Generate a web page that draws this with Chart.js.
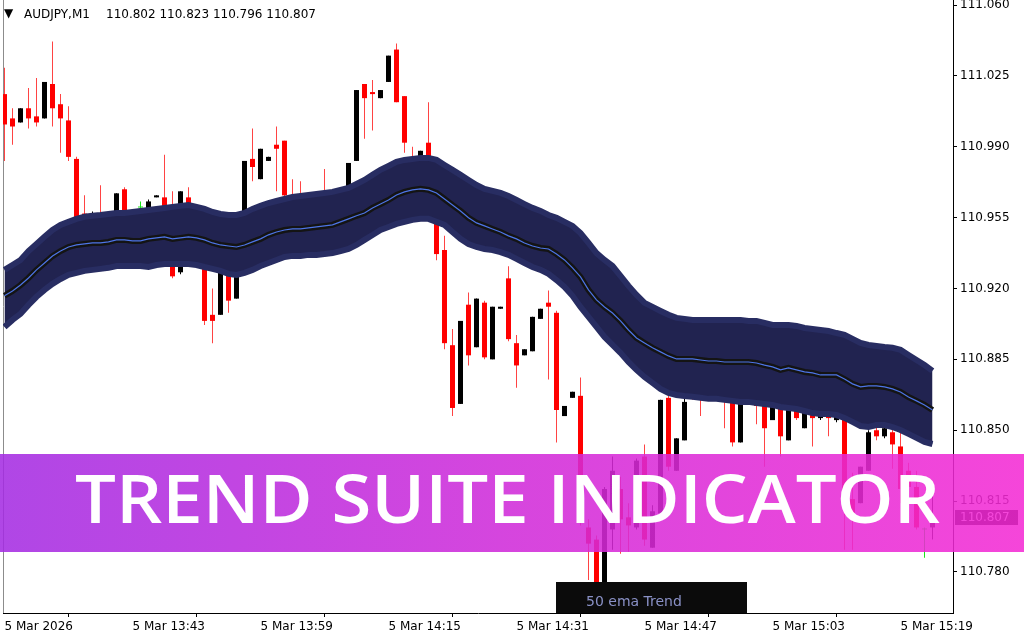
<!DOCTYPE html>
<html>
<head>
<meta charset="utf-8">
<script src="https://cdn.jsdelivr.net/npm/chart.js@4.4.1/dist/chart.umd.min.js"></script>
<style>
  html, body { margin: 0; padding: 0; background: #ffffff; }
  #wrap { width: 1024px; height: 640px; position: relative; }
  canvas { display: block; }
</style>
</head>
<body>
<div id="wrap"><canvas id="chart" width="1024" height="640"></canvas></div>
<script>
// AUDJPY M1 candles, one per minute starting 13:27
const symbolName = 'AUDJPY,M1';
const timeLabels = ['5 Mar 2026', '5 Mar 13:43', '5 Mar 13:59', '5 Mar 14:15', '5 Mar 14:31', '5 Mar 14:47', '5 Mar 15:03', '5 Mar 15:19'];
const timeLabelBars = [0, 16, 32, 48, 64, 80, 96, 112];
const priceTicks = [111.060, 111.025, 110.990, 110.955, 110.920, 110.885, 110.850, 110.815, 110.780];

const opens = [
  111.016, 111.004, 111.002, 111.009, 111.005, 111.004, 111.021, 111.011, 111.003, 110.984,
  110.957, 110.951, 110.956, 110.949, 110.955, 110.969, 110.956, 110.960, 110.956, 110.965,
  110.965, 110.954, 110.928, 110.965, 110.946, 110.937, 110.907, 110.907, 110.930, 110.915,
  110.950, 110.984, 110.974, 110.983, 110.991, 110.993, 110.965, 110.961, 110.951, 110.956,
  110.964, 110.951, 110.958, 110.961, 110.983, 111.021, 111.017, 111.014, 111.022, 111.038,
  111.015, 110.983, 110.981, 110.992, 110.961, 110.939, 110.892, 110.863, 110.912, 110.891,
  110.913, 110.885, 110.910, 110.925, 110.893, 110.887, 110.889, 110.905, 110.913, 110.908,
  110.857, 110.866, 110.867, 110.802, 110.796, 110.771, 110.801, 110.821, 110.807, 110.802,
  110.837, 110.792, 110.809, 110.866, 110.830, 110.845, 110.872, 110.870, 110.867, 110.872,
  110.869, 110.867, 110.844, 110.867, 110.867, 110.865, 110.855, 110.862, 110.845, 110.860,
  110.851, 110.859, 110.856, 110.860, 110.855, 110.858, 110.816, 110.814, 110.830, 110.850,
  110.847, 110.849, 110.842, 110.830, 110.822, 110.801, 110.802
];
const highs = [
  111.029, 111.009, 111.009, 111.019, 111.024, 111.022, 111.042, 111.016, 111.010, 110.985,
  110.966, 110.958, 110.971, 110.954, 110.967, 110.970, 110.959, 110.963, 110.964, 110.966,
  110.986, 110.968, 110.968, 110.970, 110.951, 110.942, 110.920, 110.935, 110.934, 110.933,
  110.983, 110.999, 110.989, 110.985, 111.000, 110.993, 110.974, 110.973, 110.959, 110.961,
  110.979, 110.959, 110.964, 110.982, 111.018, 111.021, 111.023, 111.018, 111.035, 111.041,
  111.015, 110.990, 110.988, 111.012, 110.964, 110.946, 110.900, 110.904, 110.918, 110.915,
  110.914, 110.911, 110.911, 110.931, 110.897, 110.890, 110.906, 110.910, 110.919, 110.909,
  110.862, 110.869, 110.876, 110.806, 110.798, 110.822, 110.837, 110.827, 110.814, 110.836,
  110.843, 110.813, 110.865, 110.870, 110.846, 110.867, 110.877, 110.875, 110.875, 110.877,
  110.875, 110.872, 110.870, 110.872, 110.872, 110.870, 110.866, 110.867, 110.865, 110.865,
  110.862, 110.862, 110.862, 110.865, 110.860, 110.860, 110.829, 110.832, 110.850, 110.855,
  110.855, 110.853, 110.849, 110.834, 110.830, 110.802, 110.823
];
const lows = [
  110.983, 110.991, 111.002, 110.999, 111.000, 111.004, 111.000, 110.987, 110.983, 110.948,
  110.944, 110.949, 110.946, 110.945, 110.953, 110.953, 110.946, 110.954, 110.955, 110.965,
  110.955, 110.925, 110.927, 110.951, 110.942, 110.902, 110.893, 110.907, 110.908, 110.915,
  110.949, 110.973, 110.974, 110.983, 110.968, 110.964, 110.956, 110.953, 110.946, 110.946,
  110.949, 110.946, 110.946, 110.959, 110.983, 110.994, 110.998, 111.014, 111.022, 111.012,
  110.987, 110.976, 110.980, 110.979, 110.934, 110.890, 110.857, 110.863, 110.882, 110.891,
  110.885, 110.885, 110.910, 110.894, 110.871, 110.887, 110.889, 110.905, 110.875, 110.844,
  110.857, 110.866, 110.803, 110.776, 110.769, 110.769, 110.791, 110.789, 110.790, 110.801,
  110.793, 110.792, 110.808, 110.830, 110.830, 110.845, 110.865, 110.857, 110.865, 110.865,
  110.851, 110.842, 110.844, 110.864, 110.853, 110.832, 110.855, 110.837, 110.845, 110.855,
  110.851, 110.842, 110.855, 110.847, 110.854, 110.791, 110.791, 110.814, 110.830, 110.845,
  110.846, 110.831, 110.814, 110.821, 110.801, 110.787, 110.796
];
const closes = [
  111.001, 111.000, 111.009, 111.004, 111.002, 111.022, 111.009, 111.004, 110.985, 110.951,
  110.949, 110.957, 110.950, 110.952, 110.967, 110.956, 110.951, 110.960, 110.963, 110.966,
  110.958, 110.926, 110.968, 110.954, 110.950, 110.904, 110.904, 110.933, 110.914, 110.932,
  110.983, 110.980, 110.989, 110.985, 110.989, 110.966, 110.959, 110.956, 110.956, 110.950,
  110.954, 110.958, 110.953, 110.982, 111.018, 111.014, 111.016, 111.018, 111.035, 111.012,
  110.992, 110.980, 110.988, 110.983, 110.937, 110.893, 110.861, 110.904, 110.887, 110.915,
  110.886, 110.911, 110.911, 110.895, 110.882, 110.890, 110.906, 110.910, 110.911, 110.860,
  110.862, 110.869, 110.806, 110.794, 110.771, 110.821, 110.830, 110.806, 110.803, 110.835,
  110.796, 110.810, 110.865, 110.832, 110.846, 110.864, 110.869, 110.866, 110.872, 110.867,
  110.865, 110.844, 110.867, 110.865, 110.862, 110.851, 110.864, 110.847, 110.862, 110.856,
  110.859, 110.856, 110.860, 110.856, 110.859, 110.816, 110.806, 110.832, 110.849, 110.847,
  110.851, 110.843, 110.821, 110.822, 110.802, 110.801, 110.807
];

// 50 EMA trend line and its channel edges
const emaMid = [
  110.9164, 110.9188, 110.9217, 110.9252, 110.9292, 110.9326, 110.9360, 110.9385, 110.9405, 110.9415,
  110.9420, 110.9425, 110.9425, 110.9430, 110.9440, 110.9440, 110.9435, 110.9435, 110.9445, 110.9450,
  110.9455, 110.9445, 110.9450, 110.9455, 110.9450, 110.9440, 110.9425, 110.9415, 110.9410, 110.9405,
  110.9415, 110.9430, 110.9445, 110.9465, 110.9479, 110.9489, 110.9494, 110.9494, 110.9499, 110.9504,
  110.9509, 110.9514, 110.9529, 110.9544, 110.9559, 110.9573, 110.9598, 110.9617, 110.9637, 110.9662,
  110.9677, 110.9687, 110.9692, 110.9687, 110.9672, 110.9642, 110.9612, 110.9583, 110.9549, 110.9524,
  110.9509, 110.9494, 110.9479, 110.9460, 110.9445, 110.9425, 110.9410, 110.9400, 110.9395, 110.9370,
  110.9341, 110.9302, 110.9257, 110.9193, 110.9144, 110.9109, 110.9079, 110.9040, 110.8995, 110.8956,
  110.8931, 110.8907, 110.8887, 110.8867, 110.8852, 110.8852, 110.8852, 110.8847, 110.8842, 110.8842,
  110.8837, 110.8837, 110.8837, 110.8837, 110.8832, 110.8822, 110.8813, 110.8798, 110.8808, 110.8798,
  110.8788, 110.8783, 110.8773, 110.8773, 110.8773, 110.8753, 110.8729, 110.8714, 110.8719, 110.8719,
  110.8714, 110.8704, 110.8689, 110.8664, 110.8645, 110.8625, 110.8600
];
const bandUpper = [
  110.9292, 110.9316, 110.9341, 110.9385, 110.9420, 110.9455, 110.9489, 110.9514, 110.9529, 110.9544,
  110.9554, 110.9559, 110.9563, 110.9568, 110.9573, 110.9573, 110.9578, 110.9583, 110.9588, 110.9593,
  110.9598, 110.9603, 110.9608, 110.9612, 110.9603, 110.9593, 110.9578, 110.9568, 110.9563, 110.9563,
  110.9573, 110.9593, 110.9608, 110.9622, 110.9632, 110.9642, 110.9652, 110.9657, 110.9662, 110.9667,
  110.9672, 110.9677, 110.9687, 110.9697, 110.9716, 110.9736, 110.9761, 110.9786, 110.9805, 110.9825,
  110.9835, 110.9840, 110.9845, 110.9845, 110.9835, 110.9810, 110.9786, 110.9761, 110.9736, 110.9711,
  110.9692, 110.9682, 110.9672, 110.9657, 110.9637, 110.9617, 110.9598, 110.9583, 110.9563, 110.9549,
  110.9529, 110.9509, 110.9474, 110.9425, 110.9375, 110.9341, 110.9311, 110.9262, 110.9213, 110.9168,
  110.9129, 110.9109, 110.9089, 110.9070, 110.9055, 110.9050, 110.9045, 110.9045, 110.9045, 110.9045,
  110.9045, 110.9045, 110.9045, 110.9040, 110.9040, 110.9030, 110.9020, 110.9020, 110.9020, 110.9015,
  110.9005, 110.9000, 110.8995, 110.8990, 110.8980, 110.8971, 110.8951, 110.8931, 110.8921, 110.8916,
  110.8911, 110.8907, 110.8897, 110.8872, 110.8847, 110.8822, 110.8793
];
const bandLower = [
  110.9010, 110.9045, 110.9075, 110.9119, 110.9159, 110.9193, 110.9223, 110.9247, 110.9267, 110.9277,
  110.9287, 110.9292, 110.9297, 110.9302, 110.9311, 110.9311, 110.9311, 110.9311, 110.9306, 110.9316,
  110.9321, 110.9321, 110.9321, 110.9321, 110.9316, 110.9306, 110.9297, 110.9287, 110.9272, 110.9267,
  110.9277, 110.9292, 110.9311, 110.9326, 110.9341, 110.9356, 110.9361, 110.9361, 110.9366, 110.9366,
  110.9370, 110.9375, 110.9385, 110.9395, 110.9415, 110.9440, 110.9464, 110.9489, 110.9504, 110.9519,
  110.9529, 110.9539, 110.9544, 110.9544, 110.9529, 110.9514, 110.9479, 110.9445, 110.9420, 110.9405,
  110.9395, 110.9390, 110.9380, 110.9366, 110.9346, 110.9326, 110.9306, 110.9292, 110.9272, 110.9242,
  110.9208, 110.9164, 110.9109, 110.9060, 110.9010, 110.8961, 110.8922, 110.8882, 110.8837, 110.8798,
  110.8763, 110.8734, 110.8704, 110.8684, 110.8674, 110.8669, 110.8665, 110.8660, 110.8655, 110.8655,
  110.8650, 110.8645, 110.8640, 110.8640, 110.8635, 110.8630, 110.8625, 110.8615, 110.8610, 110.8605,
  110.8595, 110.8585, 110.8580, 110.8580, 110.8575, 110.8561, 110.8541, 110.8521, 110.8516, 110.8526,
  110.8526, 110.8516, 110.8501, 110.8482, 110.8462, 110.8442, 110.8432
];

const bannerTitle = 'TREND SUITE INDICATOR';
const trendLabel = '50 ema Trend';

// ---- build datasets ----
const idx = closes.map((_, i) => i);
const pts = arr => arr.map((v, i) => ({ x: i, y: v }));
const bodyColor = i => closes[i] > opens[i] ? '#000000' : (closes[i] < opens[i] ? '#ff0000' : '#19e619');
const wickColor = i => closes[i] > opens[i] ? '#000000' : (closes[i] < opens[i] ? 'rgba(255,20,20,0.8)' : '#19e619');

const AXIS_FONT = { family: 'DejaVu Sans', size: 12 };

const overlays = {
  id: 'overlays',
  beforeDatasetsDraw(chart) {
    const { ctx, chartArea: a } = chart;
    ctx.save();
    ctx.strokeStyle = '#8c8c8c';
    ctx.lineWidth = 1;
    ctx.beginPath();
    ctx.moveTo(a.left + 0.5, a.top);
    ctx.lineTo(a.left + 0.5, a.bottom);
    ctx.stroke();
    ctx.restore();
  },
  afterDraw(chart) {
    const { ctx, chartArea: a, scales } = chart;
    const y = scales.y;
    const last = closes.length - 1;
    ctx.save();

    // symbol header with the last bar's OHLC
    ctx.fillStyle = '#000';
    ctx.textBaseline = 'alphabetic';
    ctx.font = '12px "DejaVu Sans"';
    ctx.fillText('\u25BC', 4, 17);
    ctx.fillText(symbolName, 24, 18);
    ctx.fillText([opens[last], highs[last], lows[last], closes[last]].map(v => v.toFixed(3)).join(' '), 106, 18);

    // current price tag on the price axis
    const py = Math.round(y.getPixelForValue(closes[last]));
    ctx.fillStyle = '#000';
    ctx.fillRect(a.right + 2, py - 7, 63, 15);
    ctx.fillStyle = '#fff';
    ctx.textBaseline = 'middle';
    ctx.fillText(closes[last].toFixed(3), a.right + 7, py + 1);

    // indicator caption box
    ctx.fillStyle = '#0b0b0b';
    ctx.fillRect(556, 582, 191, a.bottom - 582);
    ctx.fillStyle = '#8a91c6';
    ctx.font = '14px "DejaVu Sans"';
    ctx.textBaseline = 'alphabetic';
    ctx.fillText(trendLabel, 586, 606);

    // title banner
    const g = ctx.createLinearGradient(0, 0, 1024, 0);
    g.addColorStop(0, '#a42be2');
    g.addColorStop(0.5, '#d02ad9');
    g.addColorStop(1, '#f42ad4');
    ctx.globalAlpha = 0.87;
    ctx.fillStyle = g;
    ctx.fillRect(0, 454, 1024, 98);
    ctx.globalAlpha = 1;
    ctx.font = '600 67px "Open Sans"';
    const w = ctx.measureText(bannerTitle).width;
    ctx.translate(75, 523);
    ctx.scale(865 / w, 1);
    ctx.fillStyle = '#ffffff';
    ctx.fillText(bannerTitle, 0, 0);
    ctx.restore();
  }
};

new Chart(document.getElementById('chart'), {
  type: 'bar',
  data: {
    datasets: [
      { type: 'line', data: pts(bandUpper), borderColor: '#282d62', borderWidth: 6, backgroundColor: '#212350',
        fill: '+1', pointRadius: 0, tension: 0, order: 3, clip: 0 },
      { type: 'line', data: pts(bandLower), borderColor: '#282d62', borderWidth: 6,
        fill: false, pointRadius: 0, tension: 0, order: 2, clip: 0 },
      { type: 'line', data: pts(emaMid), borderColor: '#141414', borderWidth: 6,
        fill: false, pointRadius: 0, tension: 0, order: 1, clip: 0 },
      { type: 'line', data: pts(emaMid), borderColor: '#4d74e6', borderWidth: 1.2,
        fill: false, pointRadius: 0, tension: 0, order: 0, clip: 0 },
      { type: 'bar', data: idx.map(i => ({ x: i, y: [lows[i], highs[i]] })), backgroundColor: idx.map(wickColor),
        barThickness: 1, grouped: false, inflateAmount: 0, order: 6 },
      { type: 'bar', data: idx.map(i => ({ x: i, y: [opens[i], closes[i]] })), backgroundColor: idx.map(bodyColor),
        barThickness: 5, minBarLength: 1, grouped: false, inflateAmount: 0, order: 5 }
    ]
  },
  options: {
    responsive: false,
    animation: false,
    devicePixelRatio: 1,
    events: [],
    layout: { padding: { left: 3, top: 0, right: 0, bottom: 0 } },
    plugins: { legend: { display: false }, tooltip: { enabled: false } },
    scales: {
      x: {
        type: 'linear', min: -0.1875, max: 118.5625, offset: false,
        grid: { drawOnChartArea: false, drawTicks: true, tickLength: 4, color: '#000' },
        border: { display: true, color: '#000', width: 1 },
        ticks: {
          autoSkip: false, maxRotation: 0, align: 'start', padding: 3, color: '#000', font: AXIS_FONT,
          callback: v => { const k = timeLabelBars.indexOf(v); return k >= 0 ? timeLabels[k] : null; }
        },
        afterBuildTicks: s => { s.ticks = timeLabelBars.map(v => ({ value: v })); },
        afterFit: s => { s.height = 27; s.paddingLeft = 0; s.paddingRight = 0; }
      },
      y: {
        type: 'linear', position: 'right', min: 110.75975, max: 111.06247,
        grid: { drawOnChartArea: false, drawTicks: true, tickLength: 4, color: '#000' },
        border: { display: true, color: '#000', width: 1 },
        ticks: { padding: 3, color: '#000', font: AXIS_FONT, callback: v => v.toFixed(3) },
        afterBuildTicks: s => { s.ticks = priceTicks.map(v => ({ value: v })); },
        afterFit: s => { s.width = 71; s.paddingTop = 0; s.paddingBottom = 0; }
      }
    }
  },
  plugins: [overlays]
});
</script>
</body>
</html>
